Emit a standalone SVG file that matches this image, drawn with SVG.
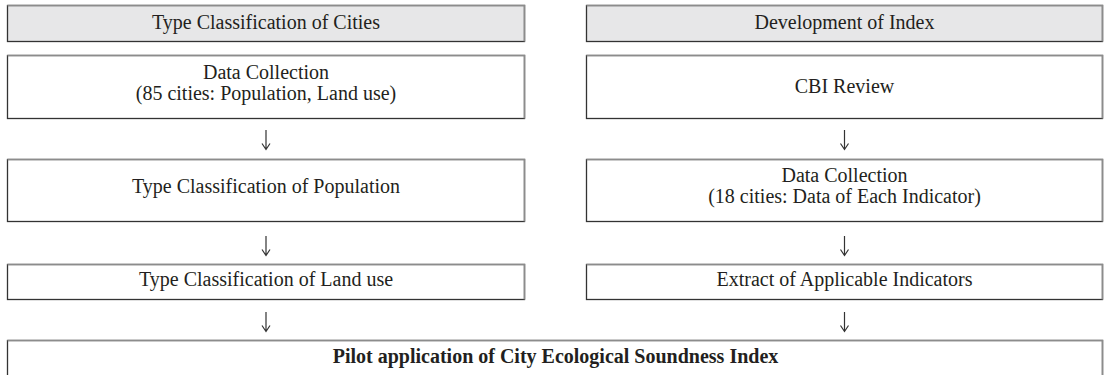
<svg xmlns="http://www.w3.org/2000/svg" width="1104" height="375" viewBox="0 0 1104 375">
<style>
  .box { fill: #ffffff; stroke: #333333; stroke-width: 1.3; }
  .hdr { fill: #e7e7e8; stroke: #333333; stroke-width: 1.3; }
  .shade { fill: none; stroke: #8c8c8c; stroke-width: 1.6; }
  .t { font-family: "Liberation Serif", "Times New Roman", serif; font-size: 20px; fill: #231f20; text-anchor: middle; }
  .b { font-weight: bold; }
  .arr { fill: none; stroke: #333333; stroke-width: 1.2; }
</style>
<rect width="1104" height="375" fill="#ffffff"/>

<g id="h-left">
  <rect class="hdr" x="7.5" y="5.5" width="517" height="36"/>
  <path class="shade" d="M7.5 5.5 H524.5 V41.5"/>
  <text class="t" x="266" y="29">Type Classification of Cities</text>
</g>
<g id="h-right">
  <rect class="hdr" x="586.5" y="5.5" width="516" height="36"/>
  <path class="shade" d="M586.5 5.5 H1102.5 V41.5"/>
  <text class="t" x="844.5" y="29">Development of Index</text>
</g>

<g id="l1">
  <rect class="box" x="7.5" y="55.5" width="517" height="63"/>
  <path class="shade" d="M7.5 55.5 H524.5 V118.5"/>
  <text class="t" x="266" y="79">Data Collection</text>
  <text class="t" x="266" y="100">(85 cities: Population, Land use)</text>
</g>
<g id="l2">
  <rect class="box" x="7.5" y="159.5" width="517" height="62"/>
  <path class="shade" d="M7.5 159.5 H524.5 V221.5"/>
  <text class="t" x="266" y="193">Type Classification of Population</text>
</g>
<g id="l3">
  <rect class="box" x="7.5" y="264.5" width="517" height="35"/>
  <path class="shade" d="M7.5 264.5 H524.5 V299.5"/>
  <text class="t" x="266" y="286">Type Classification of Land use</text>
</g>

<g id="r1">
  <rect class="box" x="586.5" y="55.5" width="516" height="63"/>
  <path class="shade" d="M586.5 55.5 H1102.5 V118.5"/>
  <text class="t" x="844.5" y="93">CBI Review</text>
</g>
<g id="r2">
  <rect class="box" x="586.5" y="159.5" width="516" height="62"/>
  <path class="shade" d="M586.5 159.5 H1102.5 V221.5"/>
  <text class="t" x="844.5" y="182">Data Collection</text>
  <text class="t" x="844.5" y="203">(18 cities: Data of Each Indicator)</text>
</g>
<g id="r3">
  <rect class="box" x="586.5" y="264.5" width="516" height="35"/>
  <path class="shade" d="M586.5 264.5 H1102.5 V299.5"/>
  <text class="t" x="844.5" y="286">Extract of Applicable Indicators</text>
</g>

<g id="final">
  <rect class="box" x="7.5" y="340.5" width="1095" height="40"/>
  <path class="shade" d="M7.5 340.5 H1102.5 V380"/>
  <text class="t b" x="555.5" y="363">Pilot application of City Ecological Soundness Index</text>
</g>

<g id="connectors">
  <path class="arr" d="M266 130 V149 M262 143.5 L266 149.5 L270 143.5"/>
  <path class="arr" d="M266 236 V255 M262 249.5 L266 255.5 L270 249.5"/>
  <path class="arr" d="M266 312 V331 M262 325.5 L266 331.5 L270 325.5"/>
  <path class="arr" d="M844.5 130 V149 M840.5 143.5 L844.5 149.5 L848.5 143.5"/>
  <path class="arr" d="M844.5 236 V255 M840.5 249.5 L844.5 255.5 L848.5 249.5"/>
  <path class="arr" d="M844.5 312 V331 M840.5 325.5 L844.5 331.5 L848.5 325.5"/>
</g>
</svg>
